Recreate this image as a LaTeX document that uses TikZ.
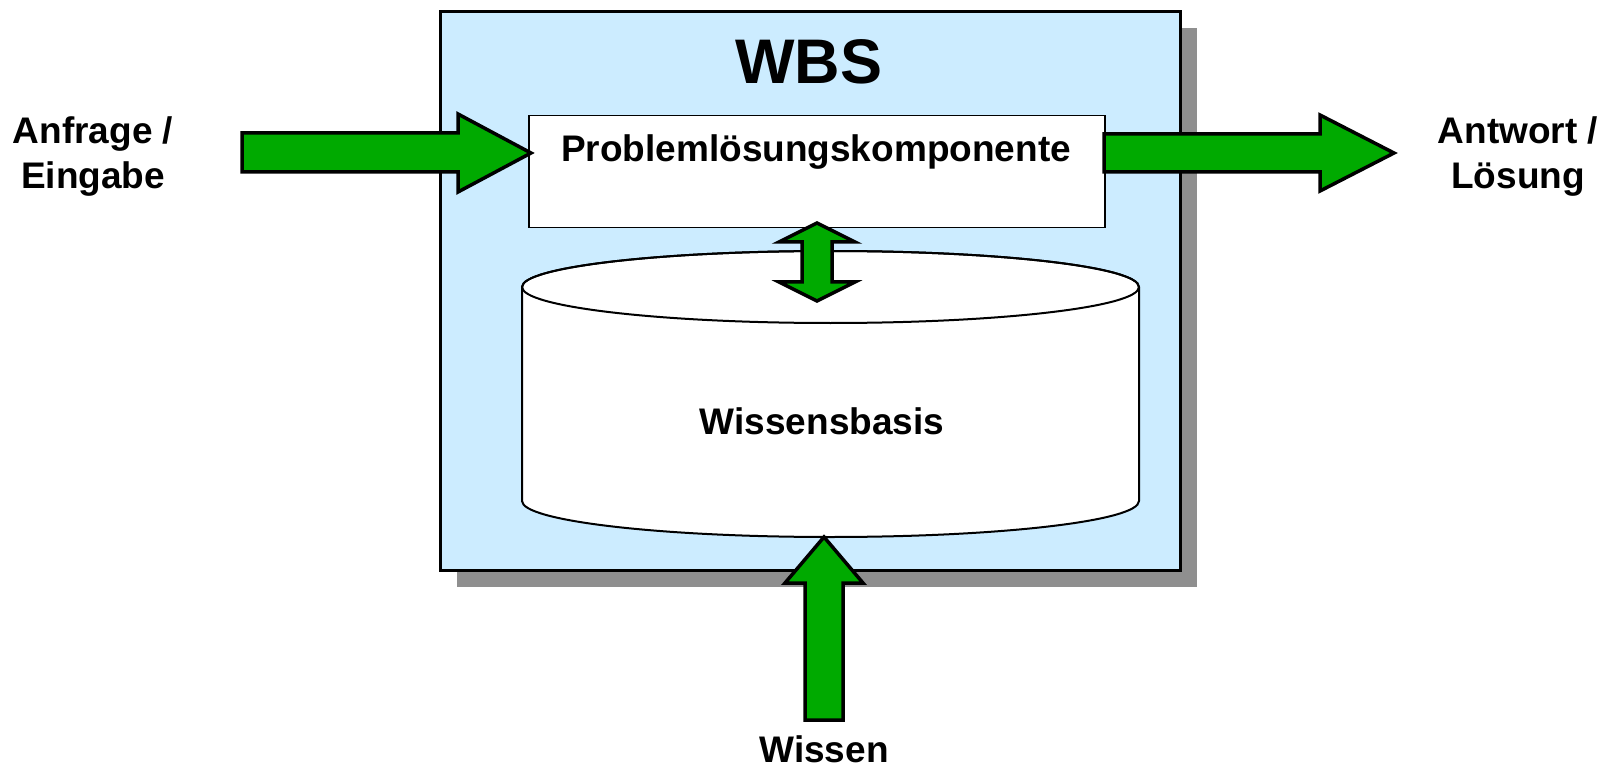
\documentclass[tikz,border=0pt]{standalone}
\usepackage{fontspec}
\setmainfont{Liberation Sans}
\usetikzlibrary{calc}
\definecolor{wbsblue}{RGB}{204,236,255}
\definecolor{arrowgreen}{RGB}{0,170,0}
\definecolor{shadowgray}{RGB}{143,143,143}
\tikzset{
  lbl/.style={font=\fontsize{37}{45}\selectfont\bfseries, align=center, inner sep=0pt},
  blockarrow/.style={fill=arrowgreen, draw=black, line width=3.5pt, line join=miter},
  boxline/.style={draw=black, inner sep=0pt},
}
\begin{document}
\begin{tikzpicture}[x=1pt,y=-1pt]
\useasboundingbox (0,0) rectangle (1611,767);
% shadow and main box
\fill[shadowgray] (457,28) rectangle (1197,587);
\node[boxline, line width=3pt, fill=wbsblue, minimum width=740pt, minimum height=559pt, anchor=north west] (wbs) at (439,10) {};
\node[font=\fontsize{63}{70}\selectfont\bfseries, inner sep=0pt, anchor=base] (title) at (809,84) {WBS};
% problem solving component
\node[boxline, line width=1.5pt, fill=white, minimum width=576pt, minimum height=112pt, anchor=north west] (plk) at (528,115) {};
\node[lbl, anchor=base] (plktext) at (816,162) {Problemlösungskomponente};
% knowledge base cylinder
\path[draw=black, line width=2pt, fill=white] (522,287) -- (522,501)
  arc[start angle=180, end angle=360, x radius=308.5pt, y radius=36pt] -- (1139,287)
  arc[start angle=0, end angle=180, x radius=308.5pt, y radius=36pt] -- cycle;
\draw[line width=2pt] (830.5,287) ellipse [x radius=308.5pt, y radius=36pt];
\node[lbl, anchor=base] (wb) at (822,434) {Wissensbasis};
% labels
\node[lbl, anchor=base] (in) at (93,189) {Anfrage /\\Eingabe};
\node[lbl, anchor=base] (out) at (1518,189) {Antwort /\\Lösung};
\node[lbl, anchor=base] (know) at (824,762) {Wissen};
% arrows
\draw[blockarrow] (242,133) -- (458,133) -- (458,114) -- (531,153) -- (458,192) -- (458,172) -- (242,172) -- cycle;
\draw[blockarrow] (1104,134) -- (1320,134) -- (1320,115) -- (1394,153) -- (1320,191) -- (1320,172) -- (1104,172) -- cycle;
\draw[blockarrow] (817,223) -- (855,242) -- (832,242) -- (832,282) -- (855,282) -- (817,301) -- (779,282) -- (802,282) -- (802,242) -- (779,242) -- cycle;
\draw[blockarrow] (824,537) -- (863,583) -- (843,583) -- (843,720) -- (805,720) -- (805,583) -- (785,583) -- cycle;
\end{tikzpicture}
\end{document}
